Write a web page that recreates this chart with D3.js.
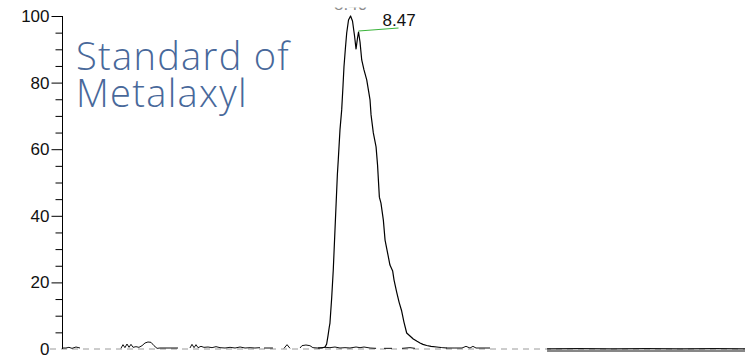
<!DOCTYPE html>
<html>
<head>
<meta charset="utf-8">
<script src="https://cdn.jsdelivr.net/npm/d3@7/dist/d3.min.js"></script>
<style>
  html, body { margin: 0; padding: 0; background: #fff; }
  svg { display: block; }
</style>
</head>
<body>
<svg id="chart" width="751" height="361"></svg>
<script>
// Retention time window (min) and relative abundance (%)
const timeDomain = [5.865, 11.865];
const abundanceDomain = [0, 100];
const majorTicks = [0, 20, 40, 60, 80, 100];
const minorTicks = [5, 10, 15, 25, 30, 35, 45, 50, 55, 65, 70, 75, 85, 90, 95];

// Metalaxyl peak trace
const peakTimes = [8.114, 8.149, 8.176, 8.190, 8.202, 8.213, 8.219, 8.234, 8.248, 8.263,
  8.284, 8.292, 8.307, 8.322, 8.334, 8.342, 8.354, 8.366, 8.382, 8.40,
  8.417, 8.435, 8.448, 8.461, 8.47, 8.483, 8.498, 8.518, 8.542, 8.558,
  8.571, 8.580, 8.600, 8.624, 8.637, 8.653, 8.667, 8.688, 8.703, 8.729,
  8.746, 8.770, 8.782, 8.805, 8.826, 8.849, 8.869, 8.893, 8.922, 8.951,
  8.984, 9.010, 9.036, 9.069, 9.107, 9.157, 9.195, 9.245];
const peakAbundance = [0.3, 0.3, 0.6, 1.5, 4.0, 6.6, 7.8, 15.3, 23.7, 35.7,
  52.3, 56.8, 65.8, 71.8, 79.3, 84.7, 90.0, 94.9, 98.8, 100,
  98.5, 94.0, 90.1, 93.4, 95.2, 92.2, 86.8, 83.8, 80.8, 77.5,
  74.8, 70.3, 64.9, 60.7, 55.3, 45.6, 43.8, 38.7, 32.7, 28.2,
  25.2, 23.4, 20.7, 17.1, 14.1, 11.4, 8.1, 4.8, 3.9, 3.0,
  2.3, 1.8, 1.4, 1.05, 0.8, 0.6, 0.45, 0.3];

// Background noise; null marks a break in the trace
const noiseTimes = [5.865, 5.900, 5.926, 5.953, 5.988, 6.023, null,
  6.383, 6.401, 6.418, 6.436, 6.454, 6.471, 6.489, 6.515, 6.541, 6.568, 6.594, 6.620, 6.647, 6.673, 6.700, 6.726, 6.814, 6.884, null,
  6.989, 7.007, 7.025, 7.042, 7.060, 7.086, 7.112, 7.148, 7.183, 7.218, 7.253, 7.297, 7.341, 7.385, 7.429, 7.473, 7.517, 7.560, 7.604, null,
  7.640, 7.718, null,
  7.815, 7.842, 7.868, null,
  7.956, 7.973, 8.008, 8.043, 8.069, 8.114, 8.176, 8.219, 8.263, 8.307, 8.351, 8.395, 8.448, 8.483, 8.518, 8.571, 8.624, null,
  8.694, 8.764, null,
  8.852, 8.922, 8.966, null,
  9.238, 9.317, 9.379, 9.414, 9.449, 9.475, 9.502, 9.625, null];
const noiseAbundance = [0.3, 0.3, 0.5, 0.2, 0.6, 0.3, null,
  0.2, 1.3, 0.4, 1.5, 0.5, 1.4, 0.5, 0.7, 0.5, 1.0, 1.8, 2.1, 2.0, 1.0, 0.2, 0.3, 0.3, 0.3, null,
  0.3, 1.4, 0.4, 1.3, 0.4, 0.8, 0.5, 0.6, 0.4, 0.7, 0.4, 0.3, 0.5, 0.3, 0.6, 0.3, 0.4, 0.3, 0.4, null,
  0.3, 0.3, null,
  0.2, 1.3, 0.2, null,
  0.3, 1.0, 1.2, 1.0, 0.4, 0.3, 0.5, 0.4, 0.6, 0.3, 0.4, 0.3, 0.6, 0.4, 0.6, 0.3, 0.2, null,
  0.2, 0.2, null,
  0.2, 0.4, 0.2, null,
  0.3, 0.3, 0.3, 0.8, 0.3, 0.8, 0.3, 0.3, null];

// Late flat stretch, drawn as an upper and lower edge
const bandTimes = [10.126, 10.40, 10.70, 11.00, 11.30, 11.60, 11.865];
const bandUpper = [0.05, 0.1, 0.05, 0.1, 0.05, 0.1, 0.05];
const bandLower = [-0.6, -0.6, -0.6, -0.6, -0.6, -0.6, -0.6];

// Peak annotations
const peakLabels = [
  { time: 8.47, text: "8.47", shown: true },
  { time: 8.40, text: "8.40", shown: false }
];

const titleLines = ["Standard of", "Metalaxyl"];

const svg = d3.select("#chart");
const x = d3.scaleLinear().domain(timeDomain).range([62, 745]);
const y = d3.scaleLinear().domain(abundanceDomain).range([349, 16]);

// Zero baseline (grey, dashed)
svg.append("line")
  .attr("x1", 50).attr("x2", 745)
  .attr("y1", y(0)).attr("y2", y(0))
  .attr("stroke", "#9a9a9a").attr("stroke-width", 1)
  .attr("stroke-dasharray", "6,5");

// Y axis with major and minor ticks
const yAxis = svg.append("g")
  .attr("transform", "translate(62.5,0)")
  .call(d3.axisLeft(y).tickValues(majorTicks).tickSize(11).tickPadding(2).tickFormat(d3.format("d")));
yAxis.select(".domain").attr("d", `M0,${y(100)}V${y(0)}`).attr("stroke", "#000");
yAxis.selectAll(".tick line").attr("stroke", "#000").filter(d => d === 0).remove();
yAxis.selectAll(".tick text")
  .attr("font-family", "'Liberation Sans', Arial, sans-serif")
  .attr("font-size", 17).attr("fill", "#111");

svg.append("g")
  .attr("transform", "translate(62.5,0)")
  .selectAll("line").data(minorTicks).join("line")
  .attr("x1", -7).attr("x2", 0)
  .attr("y1", d => y(d) + 0.5).attr("y2", d => y(d) + 0.5)
  .attr("stroke", "#000");

// Traces
const line = d3.line()
  .defined(d => d[0] !== null && d[1] !== null)
  .x(d => x(d[0])).y(d => y(d[1]));

const noise = noiseTimes.map((t, i) => [t, noiseAbundance[i]]);
svg.append("path").attr("d", line(noise))
  .attr("fill", "none").attr("stroke", "#111").attr("stroke-width", 1);

svg.append("path").attr("d", line(bandTimes.map((t, i) => [t, bandUpper[i]])))
  .attr("fill", "none").attr("stroke", "#111").attr("stroke-width", 1.2);
svg.append("path").attr("d", line(bandTimes.map((t, i) => [t, bandLower[i]])))
  .attr("fill", "none").attr("stroke", "#111").attr("stroke-width", 1.2);

const peak = peakTimes.map((t, i) => [t, peakAbundance[i]]);
svg.append("path").attr("d", line(peak))
  .attr("fill", "none").attr("stroke", "#000").attr("stroke-width", 1.2)
  .attr("stroke-linejoin", "round");

// Peak labels
const abundanceAt = t => peakAbundance[peakTimes.indexOf(t)];
const shown = peakLabels.filter(d => d.shown);
svg.selectAll("line.leader").data(shown).join("line")
  .attr("class", "leader")
  .attr("x1", d => x(d.time)).attr("y1", d => y(abundanceAt(d.time)) - 1)
  .attr("x2", d => x(d.time) + 40).attr("y2", d => y(abundanceAt(d.time)) - 4)
  .attr("stroke", "#3cb43c").attr("stroke-width", 1.2);
svg.selectAll("text.plabel").data(shown).join("text")
  .attr("class", "plabel")
  .attr("x", d => x(d.time) + 24).attr("y", 26)
  .attr("font-family", "'Liberation Sans', Arial, sans-serif")
  .attr("font-size", 17).attr("fill", "#111")
  .text(d => d.text);

// Apex label sitting above the top edge of the plot
svg.append("clipPath").attr("id", "topclip")
  .append("rect").attr("x", 0).attr("y", 7.5).attr("width", 751).attr("height", 354);
svg.append("g").attr("clip-path", "url(#topclip)")
  .selectAll("text").data(peakLabels.filter(d => !d.shown)).join("text")
  .attr("x", d => x(d.time)).attr("y", 9.5)
  .attr("text-anchor", "middle")
  .attr("font-family", "'Liberation Sans', Arial, sans-serif")
  .attr("font-size", 17).attr("fill", "#8a8a8a")
  .text(d => d.text);

// Title, one text element per line
svg.selectAll("text.title").data(titleLines).join("text")
  .attr("class", "title")
  .attr("x", 76).attr("y", (d, i) => 70 + i * 37)
  .attr("font-family", "'Open Sans', sans-serif")
  .attr("font-weight", 300)
  .attr("letter-spacing", 1.3)
  .attr("font-size", 38).attr("fill", "#48689a")
  .text(d => d);
</script>
</body>
</html>
